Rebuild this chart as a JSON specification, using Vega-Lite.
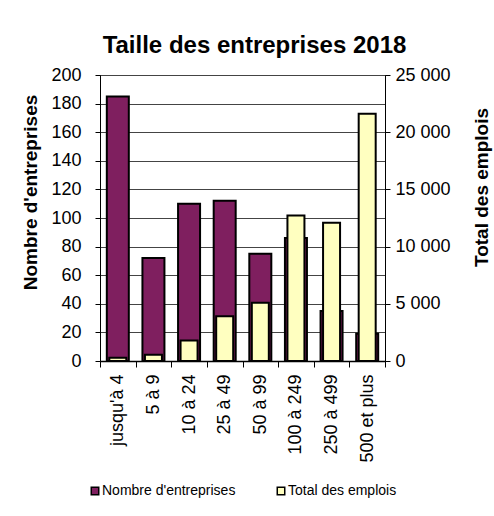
{
  "$schema": "https://vega.github.io/schema/vega-lite/v6.json",
  "width": 285,
  "height": 286,
  "autosize": {"type": "none"},
  "padding": {"left": 100, "top": 75, "right": 109, "bottom": 155},
  "background": "white",
  "title": {
    "text": "Taille des entreprises 2018",
    "font": "Liberation Sans",
    "fontSize": 24,
    "fontWeight": "bold",
    "color": "black",
    "anchor": "middle",
    "frame": "group",
    "baseline": "alphabetic",
    "dx": 12,
    "offset": -11
  },
  "data": {
    "values": [
      {"cat": "jusqu'à 4", "nombre": 185, "emplois": 280},
      {"cat": "5 à 9", "nombre": 72, "emplois": 540},
      {"cat": "10 à 24", "nombre": 110, "emplois": 1800},
      {"cat": "25 à 49", "nombre": 112, "emplois": 3920},
      {"cat": "50 à 99", "nombre": 75, "emplois": 5100},
      {"cat": "100 à 249", "nombre": 86, "emplois": 12720},
      {"cat": "250 à 499", "nombre": 35, "emplois": 12080},
      {"cat": "500 et plus", "nombre": 19, "emplois": 21620}
    ]
  },
  "encoding": {
    "x": {
      "field": "cat",
      "type": "nominal",
      "sort": null,
      "scale": {"paddingInner": 0, "paddingOuter": 0},
      "axis": {
        "title": null,
        "labelAngle": -90,
        "labelAlign": "right",
        "labelBaseline": "middle",
        "labelFont": "Liberation Sans",
        "labelFontSize": 18,
        "labelColor": "black",
        "labelPadding": 7,
        "tickBand": "extent",
        "tickSize": 6,
        "tickColor": "black",
        "domainColor": "black",
        "domainWidth": 1.5,
        "grid": false
      }
    }
  },
  "layer": [
    {
      "mark": {"type": "bar", "width": 22, "stroke": "black", "strokeWidth": 2},
      "encoding": {
        "y": {
          "field": "nombre",
          "type": "quantitative",
          "scale": {"domain": [0, 200], "nice": false},
          "axis": {
            "orient": "left",
            "title": "Nombre d'entreprises",
            "values": [0, 20, 40, 60, 80, 100, 120, 140, 160, 180, 200],
            "labelFont": "Liberation Sans",
            "labelFontSize": 18,
            "labelColor": "black",
            "labelPadding": 14,
            "tickSize": 5,
            "tickColor": "black",
            "domainColor": "black",
            "grid": true,
            "gridColor": "#444444",
            "gridWidth": 1,
            "titleFont": "Liberation Sans",
            "titleFontSize": 19,
            "titleFontWeight": "bold",
            "titleColor": "black",
            "titleAngle": -90,
            "titleBaseline": "middle",
            "titleAlign": "center",
            "titleX": -70,
            "titleY": 117
          }
        },
        "color": {
          "datum": "Nombre d'entreprises",
          "type": "nominal",
          "scale": {"domain": ["Nombre d'entreprises", "Total des emplois"], "range": ["#7F1F5F", "#FFFFC0"]},
          "legend": {
            "title": null,
            "orient": "none",
            "direction": "horizontal",
            "legendX": -12,
            "legendY": 409,
            "padding": 0,
            "symbolType": "square",
            "symbolSize": 56,
            "symbolStrokeColor": "black",
            "symbolStrokeWidth": 1.5,
            "symbolOpacity": 1,
            "labelFont": "Liberation Sans",
            "labelFontSize": 14,
            "labelColor": "black",
            "labelOffset": 0,
            "columnPadding": 38,
            "labelLimit": 300
          }
        }
      }
    },
    {
      "mark": {"type": "bar", "width": 17, "stroke": "black", "strokeWidth": 2},
      "encoding": {
        "y": {
          "field": "emplois",
          "type": "quantitative",
          "scale": {"domain": [0, 25000], "nice": false},
          "axis": {
            "orient": "right",
            "title": "Total des emplois",
            "values": [0, 5000, 10000, 15000, 20000, 25000],
            "labelExpr": "replace(format(datum.value, ','), ',', ' ')",
            "labelFont": "Liberation Sans",
            "labelFontSize": 18,
            "labelColor": "black",
            "labelPadding": 5,
            "tickSize": 5,
            "tickColor": "black",
            "domainColor": "black",
            "grid": false,
            "titleFont": "Liberation Sans",
            "titleFontSize": 19,
            "titleFontWeight": "bold",
            "titleColor": "black",
            "titleAngle": -90,
            "titleBaseline": "middle",
            "titleAlign": "center",
            "titleX": 96,
            "titleY": 112
          }
        },
        "color": {"datum": "Total des emplois", "type": "nominal"}
      }
    }
  ],
  "resolve": {"scale": {"y": "independent"}},
  "config": {
    "view": {"stroke": "black", "strokeWidth": 1},
    "bar": {"opacity": 1}
  }
}
